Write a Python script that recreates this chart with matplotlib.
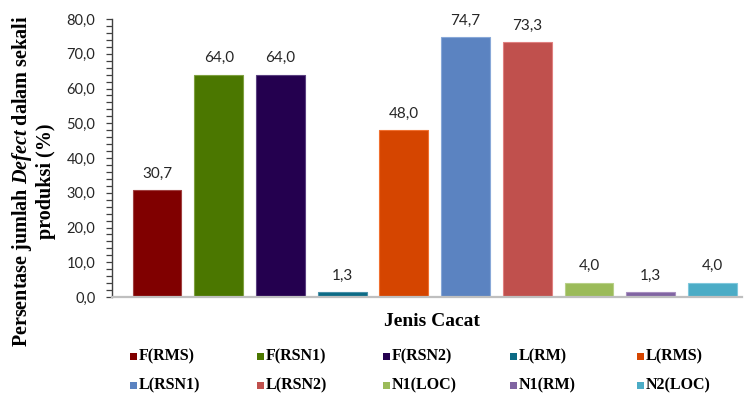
import matplotlib
matplotlib.use("Agg")
import matplotlib.pyplot as plt
from matplotlib.patches import Rectangle
from matplotlib.ticker import MultipleLocator, FuncFormatter

categories = ["F(RMS)", "F(RSN1)", "F(RSN2)", "L(RM)", "L(RMS)",
              "L(RSN1)", "L(RSN2)", "N1(LOC)", "N1(RM)", "N2(LOC)"]
values = [30.7, 64.0, 64.0, 1.3, 48.0, 74.7, 73.3, 4.0, 1.3, 4.0]
colors = ["#800000", "#4B7700", "#24004F", "#0B6A85", "#D54500",
          "#5B83C1", "#C0504D", "#9BBB59", "#8064A2", "#4BACC6"]
edge_colors = ["#A04040", "#7FA040", "#5A4080", "#4A90A8", "#F07030",
               "#88A8D8", "#E08080", "#B8D088", "#A890C0", "#80C8DC"]

plt.rcParams["mathtext.fontset"] = "custom"
plt.rcParams["mathtext.rm"] = "Liberation Serif:bold"
plt.rcParams["mathtext.it"] = "Liberation Serif:italic:bold"

W, H = 745, 396
fig = plt.figure(figsize=(W / 100, H / 100), dpi=100)
ax = fig.add_axes([112 / W, 1 - 297 / H, (742 - 112) / W, (297 - 19) / H])

x = list(range(len(categories)))
ax.bar(x, values, width=0.79, color=colors, edgecolor=edge_colors,
       linewidth=0.8, zorder=2)

for xi, v in zip(x, values):
    ax.annotate(f"{v:.1f}".replace(".", ","), (xi, v), xytext=(0, 7),
                textcoords="offset points", ha="center", va="bottom",
                fontsize=11, family="Lato", color="#262626")

ax.set_xlim(-0.73, 9.48)
ax.set_ylim(0, 80)
ax.yaxis.set_major_locator(MultipleLocator(10))
ax.yaxis.set_minor_locator(MultipleLocator(2))
ax.yaxis.set_major_formatter(FuncFormatter(lambda v, p: f"{v:.1f}".replace(".", ",")))
ax.tick_params(axis="y", which="both", direction="out", length=4, width=0.9,
               color="#404040", labelsize=10.5, labelcolor="#262626", pad=8)
ax.tick_params(axis="x", bottom=False, labelbottom=False)
for lbl in ax.get_yticklabels():
    lbl.set_family("Lato")

for side in ("top", "right"):
    ax.spines[side].set_visible(False)
ax.spines["left"].set_color("#404040")
ax.spines["left"].set_linewidth(1.0)
ax.spines["bottom"].set_color("#BFBFBF")
ax.spines["bottom"].set_linewidth(1.6)

fig.text(432 / W, 1 - 322 / H, "Jenis Cacat", ha="center", va="center",
         fontsize=14, family="Liberation Serif", fontweight="bold")

fig.text(33 / W, 1 - 181 / H,
         "Persentase jumlah $\\mathit{Defect}$ dalam sekali\nproduksi (%)",
         ha="center", va="center", rotation=90, multialignment="center",
         fontsize=14.5, family="Liberation Serif", fontweight="bold",
         linespacing=1.1)

# legend: 2 rows x 5 columns
col_x = [133, 260, 386, 513, 640]
row_y = [356, 385]
for i, (name, c) in enumerate(zip(categories, colors)):
    cx = col_x[i % 5]
    cy = row_y[i // 5]
    s = 7
    fig.patches.append(Rectangle(((cx - s / 2) / W, 1 - (cy + s / 2) / H), s / W, s / H,
                                 transform=fig.transFigure, facecolor=c,
                                 edgecolor="none"))
    fig.text((cx + 6) / W, 1 - cy / H, name, ha="left", va="center",
             fontsize=11.5, family="Liberation Serif", fontweight="bold")

fig.savefig("out.png", dpi=100)
